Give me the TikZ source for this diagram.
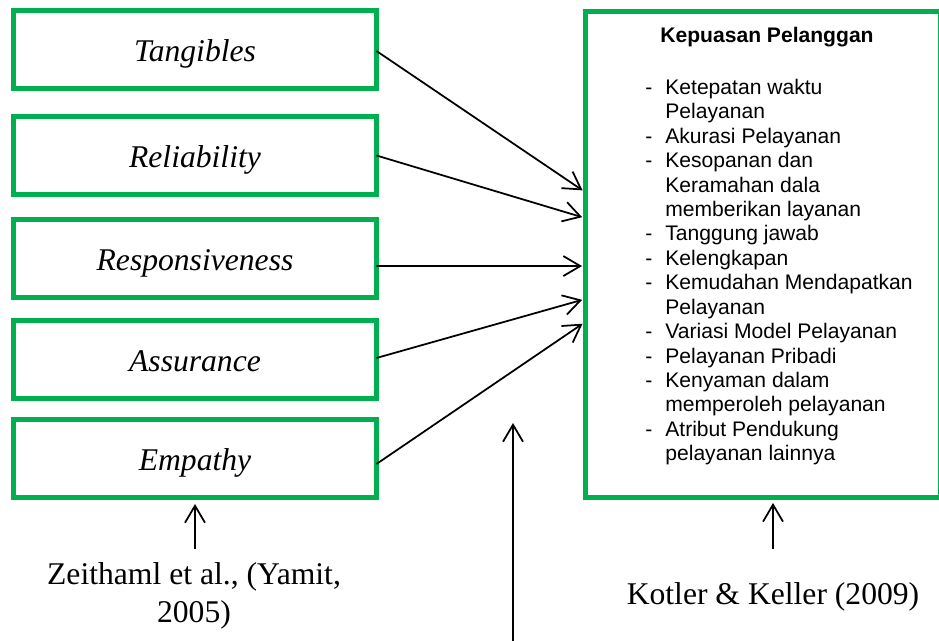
\documentclass[tikz,border=0pt]{standalone}
\usepackage{fontspec}
\setmainfont{Liberation Serif}
\newfontfamily\arialfont{Liberation Sans}
\usepackage{xcolor}
\usetikzlibrary{calc,arrows.meta,positioning}
\definecolor{kgreen}{RGB}{0,176,80}

\begin{document}
\begin{tikzpicture}[x=0.02cm,y=-0.02cm]
  \useasboundingbox (0,0) rectangle (939,641);
  %% STYLES
  \tikzstyle{every edge}=[draw,line width=1pt,-{Straight Barb[length=0.34cm,width=0.4cm]}]
  \tikzstyle{dimbox}=[draw=kgreen,line width=0.1cm,outer sep=0pt,inner sep=0pt,
    minimum width=7.26cm,minimum height=1.56cm,text height=16pt,text depth=2.3pt,
    font=\fontsize{18}{21.6}\selectfont\itshape]
  \tikzstyle{ref}=[font=\fontsize{18}{21.6}\selectfont]

  % dimensi kualitas layanan
  \foreach \yc/\name/\lbl in {49.5/T/Tangibles, 155.5/R/Reliability,
    258.5/Rs/Responsiveness, 359.5/A/Assurance, 458.5/E/Empathy} {
    \node[dimbox] (\name) at (195,\yc) {\lbl};
  }

  % kepuasan pelanggan
  \node[draw=kgreen,line width=0.1cm,outer sep=0pt,minimum width=7.12cm,
    minimum height=9.72cm] (K) at (763,254.5) {};
  \node[anchor=base,font=\arialfont\bfseries\fontsize{12}{14}\selectfont] (KT)
    at (767,43) {Kepuasan Pelanggan};
  \node[anchor=north west,inner sep=0pt,font=\arialfont\fontsize{12}{13.9}\selectfont] (KL)
    at (645,77) {%
    \begin{tabular}{@{}p{11.4pt}@{}l@{}}
      -&Ketepatan waktu\\
       &Pelayanan\\
      -&Akurasi Pelayanan\\
      -&Kesopanan dan\\
       &Keramahan dala\\
       &memberikan layanan\\
      -&Tanggung jawab\\
      -&Kelengkapan\\
      -&Kemudahan Mendapatkan\\
       &Pelayanan\\
      -&Variasi Model Pelayanan\\
      -&Pelayanan Pribadi\\
      -&Kenyaman dalam\\
       &memperoleh pelayanan\\
      -&Atribut Pendukung\\
       &pelayanan lainnya
    \end{tabular}};

  % sumber
  \node[ref,align=center] (Z) at (194,596) {Zeithaml et al., (Yamit,\\2005)};
  \node[ref,anchor=base] (KK) at (773,604) {Kotler \& Keller (2009)};

  % panah antar kotak
  \foreach \from/\dy/\ty in {T/1.5/180.5, R/0/206.5, Rs/7.5/254.5, A/-1.5/287.5, E/5.5/310.5}{
    \path ($(\from.east)+(0,\dy)$) edge[shorten >=0.06cm] ($(K.north west)+(0,\ty)$);
  }
  \path (E.south |- Z.north) edge[shorten <=0.15cm,shorten >=0.13cm] (E.south)
  (KK.north) edge[shorten <=0.53cm,shorten >=0.11cm] (KK.north |- K.south);

  % panah tengah
  \coordinate (m0) at (513,641);
  \coordinate (m1) at (513,423);
  \path (m0) edge (m1);
\end{tikzpicture}
\end{document}
